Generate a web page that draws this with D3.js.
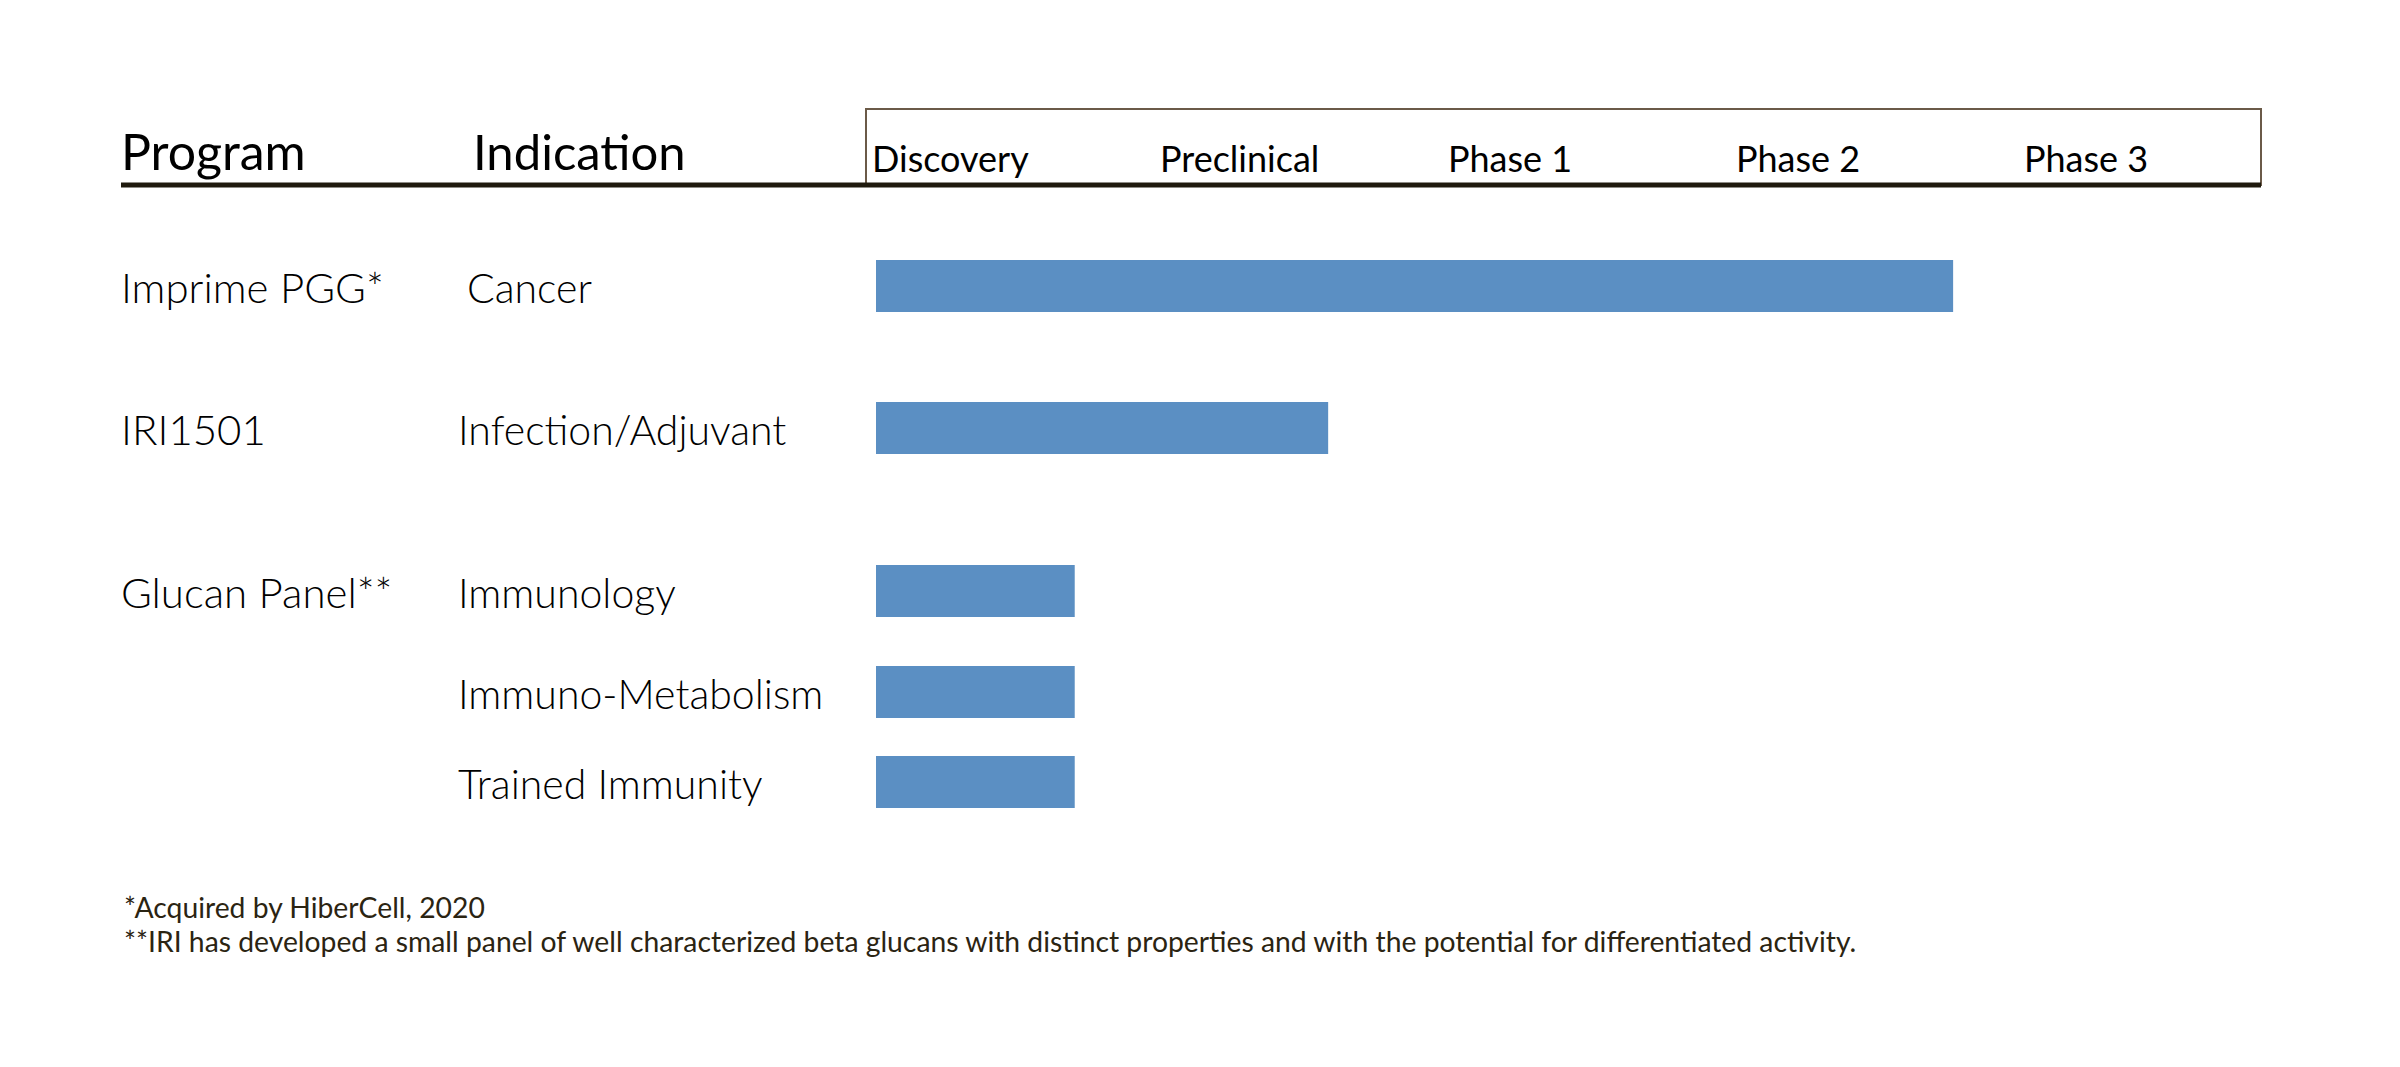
<!DOCTYPE html>
<html>
<head>
<meta charset="utf-8">
<script src="https://cdn.jsdelivr.net/npm/d3@7"></script>
<style>
  html, body { margin: 0; padding: 0; background: #fff; }
  text { font-family: Lato, "Noto Sans", sans-serif; }
</style>
</head>
<body>
<div id="chart"></div>
<script>
  const stages = ["Discovery", "Preclinical", "Phase 1", "Phase 2", "Phase 3"];
  const programs = ["Imprime PGG*", "IRI1501", "Glucan Panel**", "", ""];
  const indications = ["Cancer", "Infection/Adjuvant", "Immunology", "Immuno-Metabolism", "Trained Immunity"];
  // how far each program got, in stage units (0 = start of Discovery)
  const progress = [3.74, 1.57, 0.69, 0.69, 0.69];
  const footnotes = [
    "*Acquired by HiberCell, 2020",
    "**IRI has developed a small panel of well characterized beta glucans with distinct properties and with the potential for differentiated activity."
  ];

  const width = 2400;
  const height = 1067;

  const svg = d3.select("#chart")
    .append("svg")
    .attr("width", width)
    .attr("height", height);

  const x = d3.scaleLinear()
    .domain([0, stages.length])
    .range([876, 876 + 288 * stages.length]);

  const y = d3.scaleOrdinal()
    .domain(indications)
    .range([286, 428, 591, 692, 782]);

  const barH = 52;

  // header box
  svg.append("rect")
    .attr("x", 866)
    .attr("y", 109)
    .attr("width", 2261 - 866)
    .attr("height", 185 - 109)
    .attr("fill", "none")
    .attr("stroke", "#6b5a48")
    .attr("stroke-width", 2);

  svg.append("line")
    .attr("x1", 121).attr("x2", 2261)
    .attr("y1", 185).attr("y2", 185)
    .attr("stroke", "#1f1a0e")
    .attr("stroke-width", 5);

  svg.append("text")
    .attr("x", 121).attr("y", 170)
    .attr("font-size", 50)
    .attr("fill", "#000")
    .text("Program");

  svg.append("text")
    .attr("x", 473).attr("y", 170)
    .attr("font-size", 49)
    .attr("fill", "#000")
    .text("Indication");

  svg.append("g")
    .selectAll("text")
    .data(stages)
    .enter().append("text")
    .attr("x", (d, i) => x(i) - 4)
    .attr("y", 172)
    .attr("font-size", 36)
    .attr("fill", "#000")
    .text(d => d);

  // bars
  svg.append("g")
    .selectAll("rect")
    .data(indications)
    .enter().append("rect")
    .attr("x", x(0))
    .attr("y", d => y(d) - barH / 2)
    .attr("width", (d, i) => x(progress[i]) - x(0))
    .attr("height", barH)
    .attr("fill", "#5b8fc3");

  svg.append("g")
    .selectAll("text")
    .data(programs)
    .enter().append("text")
    .attr("x", 121)
    .attr("y", (d, i) => y(indications[i]) + 17)
    .attr("font-size", 42)
    .attr("font-weight", 300)
    .attr("fill", "#000")
    .text(d => d);

  svg.append("g")
    .selectAll("text")
    .data(indications)
    .enter().append("text")
    .attr("x", (d, i) => i === 0 ? 467 : 458)
    .attr("y", d => y(d) + 17)
    .attr("font-size", 41)
    .attr("font-weight", 300)
    .attr("fill", "#000")
    .text(d => d);

  svg.append("g")
    .selectAll("text")
    .data(footnotes)
    .enter().append("text")
    .attr("x", 124)
    .attr("y", (d, i) => 918 + i * 34)
    .attr("font-size", 28.3)
    .attr("fill", "#2b2412")
    .text(d => d);
</script>
</body>
</html>
